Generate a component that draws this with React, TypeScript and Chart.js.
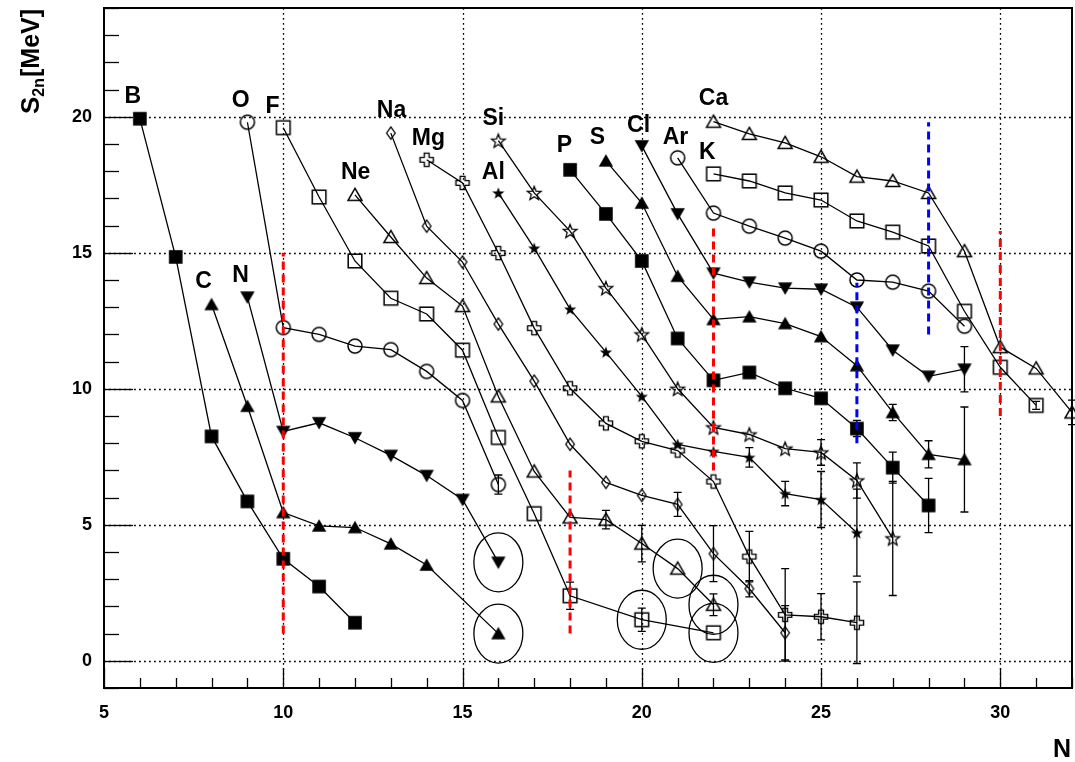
import React, { useEffect, useRef } from 'react';
import { Chart, registerables } from 'chart.js';

Chart.register(...registerables);

const FONT = '"Liberation Sans", Arial, Helvetica, sans-serif';

// ---- axes ----
const X_MIN = 5;
const X_MAX = 32;
const Y_MIN = -1;
const Y_MAX = 24;
const xTickValues = [5, 10, 15, 20, 25, 30];
const yTickValues = [0, 5, 10, 15, 20];

// ---- S2n data per element (N, S2n [MeV], error) ----
const B_N = [6, 7, 8, 9, 10, 11, 12];
const B_S2n = [19.93, 14.85, 8.25, 5.86, 3.75, 2.73, 1.4];
const B_err = [0, 0, 0, 0, 0, 0, 0];

const C_N = [8, 9, 10, 11, 12, 13, 14, 16];
const C_S2n = [13.1, 9.36, 5.45, 4.96, 4.9, 4.3, 3.52, 1.0];
const C_err = [0, 0, 0, 0, 0, 0, 0, 0];

const N_N = [9, 10, 11, 12, 13, 14, 15, 16];
const N_S2n = [13.37, 8.43, 8.75, 8.2, 7.55, 6.81, 5.93, 3.62];
const N_err = [0, 0, 0, 0, 0, 0, 0, 0];

const O_N = [9, 10, 11, 12, 13, 14, 15, 16];
const O_S2n = [19.8, 12.25, 12.0, 11.57, 11.44, 10.64, 9.57, 6.48];
const O_err = [0, 0, 0, 0, 0, 0, 0, 0.35];

const F_N = [10, 11, 12, 13, 14, 15, 16, 17, 18, 20, 22];
const F_S2n = [19.6, 17.05, 14.7, 13.33, 12.75, 11.42, 8.21, 5.41, 2.39, 1.51, 1.03];
const F_err = [0, 0, 0, 0, 0, 0, 0, 0, 0.5, 0.43, 0];

const Ne_N = [12, 13, 14, 15, 16, 17, 18, 19, 20, 21, 22];
const Ne_S2n = [17.13, 15.58, 14.07, 13.04, 9.72, 6.96, 5.27, 5.19, 4.31, 3.39, 2.06];
const Ne_err = [0, 0, 0, 0, 0, 0, 0, 0.34, 0.67, 0, 0.4];

const Na_N = [13, 14, 15, 16, 17, 18, 19, 20, 21, 22, 23, 24];
const Na_S2n = [19.4, 15.98, 14.66, 12.38, 10.28, 7.96, 6.56, 6.08, 5.75, 3.94, 2.65, 1.03];
const Na_err = [0, 0, 0, 0, 0, 0, 0, 0, 0.44, 1.03, 0.3, 1.0];

const Mg_N = [14, 15, 16, 17, 18, 19, 20, 21, 22, 23, 24, 25, 26];
const Mg_S2n = [18.42, 17.57, 14.99, 12.23, 10.02, 8.73, 8.07, 7.73, 6.59, 3.83, 1.69, 1.62, 1.4];
const Mg_err = [0, 0, 0, 0, 0, 0, 0, 0, 0, 0.93, 1.7, 0.85, 1.5];

const Al_N = [16, 17, 18, 19, 20, 21, 22, 23, 24, 25, 26];
const Al_S2n = [17.2, 15.17, 12.93, 11.35, 9.72, 7.96, 7.7, 7.48, 6.15, 5.93, 4.71];
const Al_err = [0, 0, 0, 0, 0, 0, 0, 0.36, 0.45, 1.03, 1.6];

const Si_N = [16, 17, 18, 19, 20, 21, 22, 23, 24, 25, 26, 27];
const Si_S2n = [19.12, 17.2, 15.8, 13.7, 12.0, 10.0, 8.58, 8.32, 7.8, 7.66, 6.63, 4.5];
const Si_err = [0, 0, 0, 0, 0, 0, 0, 0, 0, 0.47, 0.65, 2.1];

const P_N = [18, 19, 20, 21, 22, 23, 24, 25, 26, 27, 28];
const P_S2n = [18.05, 16.43, 14.7, 11.85, 10.31, 10.6, 10.02, 9.65, 8.54, 7.1, 5.71];
const P_err = [0, 0, 0, 0, 0, 0, 0, 0, 0.3, 0.57, 1.0];

const S_N = [19, 20, 21, 22, 23, 24, 25, 26, 27, 28, 29];
const S_S2n = [18.38, 16.83, 14.14, 12.55, 12.65, 12.4, 11.92, 10.85, 9.13, 7.59, 7.4];
const S_err = [0, 0, 0, 0, 0, 0, 0, 0, 0.3, 0.5, 1.93];

const Cl_N = [20, 21, 22, 23, 24, 25, 26, 27, 28, 29];
const Cl_S2n = [18.93, 16.43, 14.25, 13.92, 13.7, 13.66, 13.0, 11.42, 10.46, 10.72];
const Cl_err = [0, 0, 0, 0, 0, 0, 0, 0, 0, 0.83];

const Ar_N = [21, 22, 23, 24, 25, 26, 27, 28, 29];
const Ar_S2n = [18.49, 16.46, 15.98, 15.54, 15.06, 14.0, 13.92, 13.59, 12.3];
const Ar_err = [0, 0, 0, 0, 0, 0, 0, 0, 0];

const K_N = [22, 23, 24, 25, 26, 27, 28, 29, 30, 31];
const K_S2n = [17.9, 17.64, 17.2, 16.94, 16.17, 15.76, 15.25, 12.85, 10.79, 9.39];
const K_err = [0, 0, 0, 0, 0, 0, 0, 0, 0, 0.15];

const Ca_N = [22, 23, 24, 25, 26, 27, 28, 29, 30, 31, 32];
const Ca_S2n = [19.82, 19.37, 19.04, 18.53, 17.8, 17.64, 17.2, 15.06, 11.53, 10.75, 9.13];
const Ca_err = [0, 0, 0, 0, 0, 0, 0, 0, 0, 0, 0.45];

// ---- element labels (text and anchor in data units) ----
const labelText = ['B', 'C', 'N', 'O', 'F', 'Ne', 'Na', 'Mg', 'Al', 'Si', 'P', 'S', 'Cl', 'Ar', 'K', 'Ca'];
const labelN = [5.8, 7.78, 8.81, 8.81, 9.7, 12.02, 13.02, 14.05, 15.86, 15.86, 17.84, 18.76, 19.91, 20.94, 21.83, 22.0];
const labelS = [20.74, 13.93, 14.15, 20.59, 20.37, 17.94, 20.22, 19.19, 17.94, 19.93, 18.93, 19.23, 19.67, 19.23, 18.68, 20.66];

// ---- magic-number guide lines ----
const magicN = [10, 18, 22, 30, 26, 28];
const magicLow = [1.0, 1.0, 7.0, 9.0, 8.0, 12.0];
const magicHigh = [15.0, 7.0, 16.0, 15.8, 13.9, 19.8];
const magicColor = ['#ff0000', '#ff0000', '#ff0000', '#ff0000', '#0000ff', '#0000ff'];

// ---- circled points ----
const circledElement = ['C', 'N', 'F', 'F', 'Ne', 'Ne'];
const circledN = [16, 16, 20, 22, 21, 22];

const series = [
  { name: 'B', n: B_N, s: B_S2n, err: B_err, marker: 'fsquare' },
  { name: 'C', n: C_N, s: C_S2n, err: C_err, marker: 'ftriup' },
  { name: 'N', n: N_N, s: N_S2n, err: N_err, marker: 'ftridown' },
  { name: 'O', n: O_N, s: O_S2n, err: O_err, marker: 'ocircle' },
  { name: 'F', n: F_N, s: F_S2n, err: F_err, marker: 'osquare' },
  { name: 'Ne', n: Ne_N, s: Ne_S2n, err: Ne_err, marker: 'otriup' },
  { name: 'Na', n: Na_N, s: Na_S2n, err: Na_err, marker: 'odiamond' },
  { name: 'Mg', n: Mg_N, s: Mg_S2n, err: Mg_err, marker: 'ocross' },
  { name: 'Al', n: Al_N, s: Al_S2n, err: Al_err, marker: 'fstar' },
  { name: 'Si', n: Si_N, s: Si_S2n, err: Si_err, marker: 'ostar' },
  { name: 'P', n: P_N, s: P_S2n, err: P_err, marker: 'fsquare' },
  { name: 'S', n: S_N, s: S_S2n, err: S_err, marker: 'ftriup' },
  { name: 'Cl', n: Cl_N, s: Cl_S2n, err: Cl_err, marker: 'ftridown' },
  { name: 'Ar', n: Ar_N, s: Ar_S2n, err: Ar_err, marker: 'ocircle' },
  { name: 'K', n: K_N, s: K_S2n, err: K_err, marker: 'osquare' },
  { name: 'Ca', n: Ca_N, s: Ca_S2n, err: Ca_err, marker: 'otriup' },
];

// plot-area target box (pixels)
const AREA_LEFT = 104;
const AREA_RIGHT = 1072;
const AREA_TOP = 8;
const AREA_BOTTOM = 688;

function makeMarker(kind: string): HTMLCanvasElement {
  const SZ = 22;
  const c = document.createElement('canvas');
  c.width = SZ;
  c.height = SZ;
  const g = c.getContext('2d') as CanvasRenderingContext2D;
  g.translate(SZ / 2, SZ / 2);
  g.lineWidth = 1.5;
  g.strokeStyle = '#000';
  g.fillStyle = '#000';
  const poly = (pts: number[][], fill: boolean) => {
    g.beginPath();
    pts.forEach((p, i) => (i ? g.lineTo(p[0], p[1]) : g.moveTo(p[0], p[1])));
    g.closePath();
    if (fill) g.fill();
    else g.stroke();
  };
  const star = (ro: number, ri: number) => {
    const pts: number[][] = [];
    for (let k = 0; k < 10; k++) {
      const r = k % 2 === 0 ? ro : ri;
      const a = -Math.PI / 2 + (k * Math.PI) / 5;
      pts.push([r * Math.cos(a), r * Math.sin(a) + 0.6]);
    }
    return pts;
  };
  switch (kind) {
    case 'fsquare':
      g.fillRect(-6.8, -6.8, 13.6, 13.6);
      break;
    case 'osquare':
      g.strokeRect(-6.8, -6.8, 13.6, 13.6);
      break;
    case 'ocircle':
      g.beginPath();
      g.arc(0, 0, 7, 0, Math.PI * 2);
      g.stroke();
      break;
    case 'ftriup':
      poly([[0, -6.8], [7.2, 5.8], [-7.2, 5.8]], true);
      break;
    case 'ftridown':
      poly([[0, 6.8], [7.2, -5.8], [-7.2, -5.8]], true);
      break;
    case 'otriup':
      poly([[0, -6.6], [7, 5.6], [-7, 5.6]], false);
      break;
    case 'odiamond':
      g.lineWidth = 1.3;
      poly([[0, -6.2], [4.3, 0], [0, 6.2], [-4.3, 0]], false);
      break;
    case 'ocross': {
      g.lineWidth = 1.4;
      const a = 2.4;
      const L = 6.6;
      poly([[-a, -L], [a, -L], [a, -a], [L, -a], [L, a], [a, a], [a, L], [-a, L], [-a, a], [-L, a], [-L, -a], [-a, -a]], false);
      break;
    }
    case 'fstar':
      poly(star(6.4, 2.6), true);
      break;
    case 'ostar':
      g.lineWidth = 1.3;
      poly(star(7.2, 3.1), false);
      break;
  }
  return c;
}

function findValue(name: string, n: number): number | null {
  const s = series.find((e) => e.name === name);
  if (!s) return null;
  const i = s.n.indexOf(n);
  return i < 0 ? null : s.s[i];
}

const decorPlugin = {
  id: 'decor',
  afterLayout(chart: any) {
    // pin the plot area to the reference frame
    const ca = chart.chartArea;
    ca.left = AREA_LEFT;
    ca.right = AREA_RIGHT;
    ca.top = AREA_TOP;
    ca.bottom = AREA_BOTTOM;
    ca.width = AREA_RIGHT - AREA_LEFT;
    ca.height = AREA_BOTTOM - AREA_TOP;
    const x = chart.scales.x;
    const y = chart.scales.y;
    x.left = AREA_LEFT;
    x.right = AREA_RIGHT;
    x.width = AREA_RIGHT - AREA_LEFT;
    x.top = AREA_BOTTOM;
    x.bottom = chart.height;
    x.height = chart.height - AREA_BOTTOM;
    x.configure();
    y.top = AREA_TOP;
    y.bottom = AREA_BOTTOM;
    y.height = AREA_BOTTOM - AREA_TOP;
    y.left = 0;
    y.right = AREA_LEFT;
    y.width = AREA_LEFT;
    y.configure();
  },
  beforeDatasetsDraw(chart: any) {
    const { ctx, chartArea: a } = chart;
    const x = chart.scales.x;
    const y = chart.scales.y;
    ctx.save();
    // dotted grid
    ctx.strokeStyle = '#000';
    ctx.lineWidth = 1.3;
    ctx.setLineDash([1.8, 3.2]);
    xTickValues.forEach((v) => {
      if (v <= X_MIN) return;
      const px = Math.round(x.getPixelForValue(v)) + 0.5;
      ctx.beginPath();
      ctx.moveTo(px, a.top);
      ctx.lineTo(px, a.bottom);
      ctx.stroke();
    });
    yTickValues.forEach((v) => {
      const py = Math.round(y.getPixelForValue(v)) + 0.5;
      ctx.beginPath();
      ctx.moveTo(a.left, py);
      ctx.lineTo(a.right, py);
      ctx.stroke();
    });
    ctx.setLineDash([]);
    // error bars
    ctx.lineWidth = 1.3;
    series.forEach((s) => {
      s.err.forEach((e, i) => {
        if (!e) return;
        const px = x.getPixelForValue(s.n[i]);
        const y1 = y.getPixelForValue(s.s[i] + e);
        const y2 = y.getPixelForValue(s.s[i] - e);
        ctx.beginPath();
        ctx.moveTo(px, y1);
        ctx.lineTo(px, y2);
        ctx.moveTo(px - 4, y1);
        ctx.lineTo(px + 4, y1);
        ctx.moveTo(px - 4, y2);
        ctx.lineTo(px + 4, y2);
        ctx.stroke();
      });
    });
    ctx.restore();
  },
  afterDatasetsDraw(chart: any) {
    const { ctx, chartArea: a } = chart;
    const x = chart.scales.x;
    const y = chart.scales.y;
    ctx.save();
    // circles around points
    ctx.strokeStyle = '#000';
    ctx.lineWidth = 1.3;
    circledElement.forEach((el, i) => {
      const v = findValue(el, circledN[i]);
      if (v === null) return;
      ctx.beginPath();
      ctx.ellipse(x.getPixelForValue(circledN[i]), y.getPixelForValue(v), 24.5, 29.5, 0, 0, Math.PI * 2);
      ctx.stroke();
    });
    // frame
    ctx.lineWidth = 2;
    ctx.strokeRect(a.left, a.top, a.right - a.left, a.bottom - a.top);
    // inward ticks
    ctx.lineWidth = 1.3;
    for (let v = X_MIN; v <= X_MAX; v++) {
      const px = Math.round(x.getPixelForValue(v)) + 0.5;
      const len = v % 5 === 0 ? 20 : 10;
      ctx.beginPath();
      ctx.moveTo(px, a.bottom);
      ctx.lineTo(px, a.bottom - len);
      ctx.stroke();
    }
    for (let v = Y_MIN; v <= Y_MAX; v++) {
      const py = Math.round(y.getPixelForValue(v)) + 0.5;
      const len = v % 5 === 0 ? 29 : 15;
      ctx.beginPath();
      ctx.moveTo(a.left, py);
      ctx.lineTo(a.left + len, py);
      ctx.stroke();
    }
    // element labels
    ctx.fillStyle = '#000';
    ctx.font = 'bold 23px ' + FONT;
    ctx.textAlign = 'center';
    ctx.textBaseline = 'middle';
    labelText.forEach((t, i) => {
      ctx.fillText(t, x.getPixelForValue(labelN[i]), y.getPixelForValue(labelS[i]));
    });
    // axis titles
    ctx.textAlign = 'right';
    ctx.textBaseline = 'alphabetic';
    ctx.font = 'bold 25px ' + FONT;
    ctx.fillText('N', a.right - 1, 757);
    ctx.translate(39, 114);
    ctx.rotate(-Math.PI / 2);
    ctx.textAlign = 'left';
    ctx.font = 'bold 26px ' + FONT;
    ctx.fillText('S', 0, 0);
    let w = ctx.measureText('S').width;
    ctx.font = 'bold 16px ' + FONT;
    ctx.fillText('2n', w, 5);
    w += ctx.measureText('2n').width + 1;
    ctx.font = 'bold 25px ' + FONT;
    ctx.fillText('[MeV]', w, 0);
    ctx.restore();
  },
};

export default function App() {
  const ref = useRef<HTMLCanvasElement | null>(null);
  useEffect(() => {
    if (!ref.current) return;
    const datasets: any[] = [];
    magicN.forEach((n, i) => {
      datasets.push({
        label: 'magic' + n,
        data: [
          { x: n, y: magicLow[i] },
          { x: n, y: magicHigh[i] },
        ],
        showLine: true,
        borderColor: magicColor[i],
        borderWidth: 3,
        borderDash: [8, 5],
        pointRadius: 0,
        order: 0,
      });
    });
    series.forEach((s) => {
      datasets.push({
        label: s.name,
        data: s.n.map((n, i) => ({ x: n, y: s.s[i] })),
        showLine: true,
        borderColor: '#000',
        borderWidth: 1.3,
        backgroundColor: 'transparent',
        pointStyle: makeMarker(s.marker),
        pointRadius: 6,
        pointHoverRadius: 6,
        tension: 0,
        clip: false,
        order: 1,
      });
    });
    const tickFont = { family: FONT, size: 18, weight: 'bold' as const };
    const chart = new Chart(ref.current, {
      type: 'scatter',
      data: { datasets },
      options: {
        responsive: false,
        animation: false,
        events: [],
        layout: { padding: { left: 0, right: 3, top: 8, bottom: 0 } },
        plugins: { legend: { display: false }, tooltip: { enabled: false } },
        scales: {
          x: {
            type: 'linear',
            min: X_MIN,
            max: X_MAX,
            grid: { display: false, drawTicks: false },
            border: { display: false },
            afterBuildTicks: (scale: any) => {
              scale.ticks = xTickValues.map((v) => ({ value: v }));
            },
            afterFit: (scale: any) => {
              scale.height = 74;
              scale.paddingLeft = 0;
              scale.paddingRight = 0;
            },
            ticks: { color: '#000', font: tickFont, padding: 14, maxRotation: 0, autoSkip: false },
          },
          y: {
            type: 'linear',
            min: Y_MIN,
            max: Y_MAX,
            grid: { display: false, drawTicks: false },
            border: { display: false },
            afterBuildTicks: (scale: any) => {
              scale.ticks = yTickValues.map((v) => ({ value: v }));
            },
            afterFit: (scale: any) => {
              scale.width = 104;
              scale.paddingTop = 0;
              scale.paddingBottom = 0;
            },
            ticks: { color: '#000', font: tickFont, padding: 12, autoSkip: false },
          },
        },
      },
      plugins: [decorPlugin],
    });
    return () => chart.destroy();
  }, []);
  return (
    <div style={{ position: 'fixed', left: 0, top: 0, width: 1075, height: 762, background: '#fff' }}>
      <canvas ref={ref} width={1075} height={762} style={{ width: 1075, height: 762, display: 'block' }} />
    </div>
  );
}
